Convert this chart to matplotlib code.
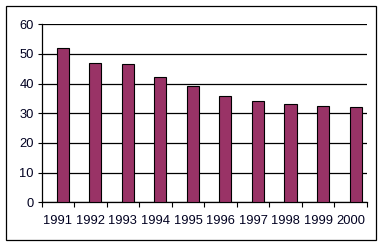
import matplotlib
matplotlib.use("Agg")
import matplotlib.pyplot as plt
from matplotlib.patches import Rectangle

years = ["1991", "1992", "1993", "1994", "1995", "1996", "1997", "1998", "1999", "2000"]
values = [52.0, 47.1, 46.5, 42.1, 39.1, 35.7, 34.0, 33.3, 32.3, 32.0]
yticks = [0, 10, 20, 30, 40, 50, 60]

W, H = 383, 246
fig = plt.figure(figsize=(W / 100, H / 100), dpi=100)
fig.patch.set_facecolor("white")
fig.patches.append(Rectangle((5.5 / W, 1 - 240 / H), 370 / W, 234.5 / H,
                             transform=fig.transFigure, fill=False,
                             edgecolor="black", linewidth=0.9))

ax = fig.add_axes([41.5 / W, 1 - 202.3 / H, (367 - 41.5) / W, (202.3 - 24.3) / H])
x = list(range(len(years)))
ax.bar([i + 0.15 for i in x], values, width=0.37, color="#993366",
       edgecolor="black", linewidth=0.8, zorder=3)
ax.set_xlim(-0.5, len(years) - 0.5)
ax.set_ylim(0, 60)
ax.set_yticks(yticks)
ax.set_yticklabels([str(t) for t in yticks])
ax.set_xticks(x)
ax.set_xticklabels(years)
ax.set_xticks([i - 0.5 for i in range(len(years) + 1)], minor=True)
ax.tick_params(axis="x", which="major", length=0, pad=9.5)
ax.tick_params(axis="x", which="minor", length=3.5, width=0.8, direction="out")
ax.tick_params(axis="y", length=3, width=0.8, direction="out", pad=2.5)
ax.yaxis.grid(True, color="black", linewidth=0.9, zorder=0)
for lab in ax.get_xticklabels() + ax.get_yticklabels():
    lab.set_fontfamily("Liberation Sans")
    lab.set_fontsize(9.3)
    lab.set_color("#000020")
for s in ["top", "right"]:
    ax.spines[s].set_visible(False)
ax.spines["left"].set_linewidth(0.9)
ax.spines["bottom"].set_linewidth(0.9)
ax.set_axisbelow(True)

fig.savefig("out.png", dpi=100)
